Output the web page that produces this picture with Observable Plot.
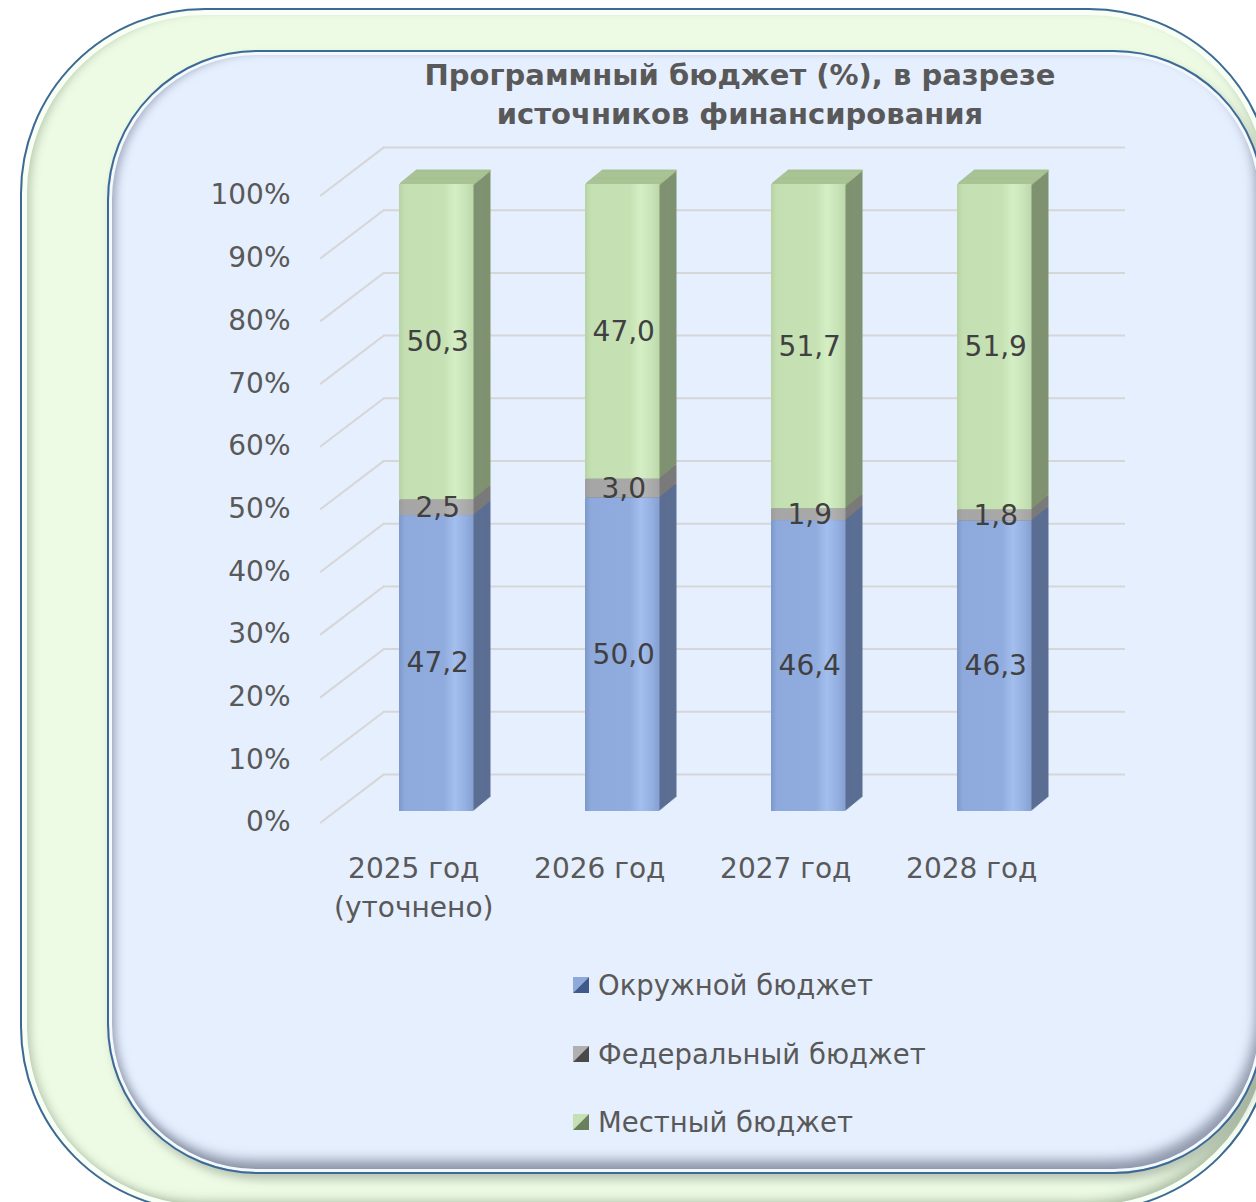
<!DOCTYPE html>
<html>
<head>
<meta charset="utf-8">
<script src="https://cdn.jsdelivr.net/npm/d3@7"></script>
<script src="https://cdn.jsdelivr.net/npm/@observablehq/plot@0.6"></script>
<style>
  html, body { margin: 0; padding: 0; }
  body { width: 1256px; height: 1202px; overflow: hidden; position: relative; background: #ffffff; font-family: "DejaVu Sans", sans-serif; }
  #outer { position: absolute; left: 20px; top: 8px; width: 1250px; height: 1200px; border: 2px solid #3c6a96; border-radius: 185px;
    background: #edfbe5; box-shadow: inset 0 0 0 5px #f8fff4, inset 8px 0 10px rgba(120,140,110,0.45), inset -8px -8px 12px rgba(110,130,100,0.5); }
  #inner { position: absolute; left: 107px; top: 50px; width: 1153px; height: 1120px; border: 2px solid #3c6a96; border-radius: 150px;
    background: #e6effe; box-shadow: inset 0 0 0 3px #f4f8ff, inset 7px 0 8px rgba(110,120,140,0.55), inset -6px -12px 12px rgba(90,100,120,0.6), 4px 6px 8px rgba(90,100,90,0.35); }
  #title { position: absolute; left: 240px; width: 1000px; top: 56px; text-align: center; font-weight: bold; font-size: 29px; line-height: 39px; color: #595959; }
  #chart { position: absolute; left: 0; top: 0; }
  #legend { position: absolute; left: 573px; top: 960px; color: #595959; font-size: 27.5px; }
  .item { position: absolute; left: 0; height: 40px; display: flex; align-items: center; white-space: nowrap; }
  .item svg { margin-right: 9px; }
</style>
</head>
<body>
<svg width="0" height="0" style="position:absolute">
  <defs>
    <linearGradient id="gBlue" x1="0" x2="1" y1="0" y2="0">
      <stop offset="0" stop-color="#7d98cb"/>
      <stop offset="0.08" stop-color="#8ea9db"/>
      <stop offset="0.6" stop-color="#90abdd"/>
      <stop offset="0.75" stop-color="#a3bfee"/>
      <stop offset="0.9" stop-color="#93aee0"/>
      <stop offset="1" stop-color="#859fd0"/>
    </linearGradient>
    <linearGradient id="gGrey" x1="0" x2="1" y1="0" y2="0">
      <stop offset="0" stop-color="#9c9c9c"/>
      <stop offset="0.08" stop-color="#a6a6a6"/>
      <stop offset="0.6" stop-color="#a8a8a8"/>
      <stop offset="0.75" stop-color="#b6b6b6"/>
      <stop offset="1" stop-color="#a2a2a2"/>
    </linearGradient>
    <linearGradient id="gGreen" x1="0" x2="1" y1="0" y2="0">
      <stop offset="0" stop-color="#b7d3a4"/>
      <stop offset="0.08" stop-color="#c4dfb2"/>
      <stop offset="0.6" stop-color="#c6e1b4"/>
      <stop offset="0.75" stop-color="#d4efc4"/>
      <stop offset="0.9" stop-color="#c8e3b7"/>
      <stop offset="1" stop-color="#bcd7aa"/>
    </linearGradient>
  </defs>
</svg>
<div id="outer"></div>
<div id="inner"></div>
<div id="chart"></div>
<div id="title">Программный бюджет (%), в разрезе<br>источников финансирования</div>
<div id="legend"></div>
<script>
// ---- data ----
const years = ["2025 год\n(уточнено)", "2026 год", "2027 год", "2028 год"];
const seriesNames = ["Окружной бюджет", "Федеральный бюджет", "Местный бюджет"];
const okrug = [47.2, 50.0, 46.4, 46.3];
const federal = [2.5, 3.0, 1.9, 1.8];
const local = [50.3, 47.0, 51.7, 51.9];
const yTicks = [0, 10, 20, 30, 40, 50, 60, 70, 80, 90, 100];

// ---- styles ----
const frontFill = {
  "Окружной бюджет": "url(#gBlue)",
  "Федеральный бюджет": "url(#gGrey)",
  "Местный бюджет": "url(#gGreen)"
};
const sideFill = {
  "Окружной бюджет": "#5b6e93",
  "Федеральный бюджет": "#7a7a7a",
  "Местный бюджет": "#7f9271"
};
const legendColors = {
  "Окружной бюджет": ["#8eaadc", "#3f5a8a"],
  "Федеральный бюджет": ["#b0b0b0", "#4a4a4a"],
  "Местный бюджет": ["#c5e0b4", "#6a7f5c"]
};
const topFill = "#a9c395";

const valuesBySeries = [okrug, federal, local];
const rows = years.flatMap((year, i) =>
  seriesNames.map((s, j) => ({year, series: s, value: valuesBySeries[j][i]}))
);
const fmt = v => v.toFixed(1).replace(".", ",");

const W = 1256, H = 1202;
const depthX = 17, depthY = -14, N = 16;

const marks = [];
// grid: back wall lines
marks.push(Plot.ruleY(yTicks, {y: d => d, dy: -37, insetLeft: 95.5, insetRight: 18, stroke: "#d6d6d6", strokeWidth: 2}));
// grid: side wall diagonals
marks.push(Plot.vector(yTicks, {x: () => years[0], y: d => d, length: 79, rotate: 52.7, anchor: "start", r: 0,
  dx: -116, dy: 11, stroke: "#d6d6d6", strokeWidth: 2}));

// 3D extrusion of the bars (side + top faces)
for (let k = N; k >= 1; k--) {
  const dx = k * depthX / N, dy = k * depthY / N;
  marks.push(Plot.barY(rows, Plot.stackY({x: "year", y: "value", z: "series", fill: d => sideFill[d.series], dx, dy})));
  marks.push(Plot.tickY(rows, Plot.groupX({y: "sum"}, {x: "year", y: "value", stroke: topFill, strokeWidth: 2.2, dx, dy})));
}
// front faces
marks.push(Plot.barY(rows, Plot.stackY({x: "year", y: "value", z: "series", fill: d => frontFill[d.series]})));
// value labels
marks.push(Plot.text(rows, Plot.stackY({x: "year", y: "value", z: "series", text: d => fmt(d.value),
  fill: "#404040", fontSize: 28, dx: 1})));
// y axis labels
marks.push(Plot.text(yTicks, {y: d => d, text: d => d + "%", frameAnchor: "left", textAnchor: "end", dx: 2.5, dy: 11,
  fontSize: 28, fill: "#595959"}));
// x axis labels
marks.push(Plot.text(years, {x: d => d, text: d => d, frameAnchor: "bottom", lineAnchor: "top", dx: -23, dy: 39,
  fontSize: 28, lineHeight: 1.39, fill: "#595959"}));

const chart = Plot.plot({
  width: W,
  height: H,
  marginLeft: 287.5,
  marginRight: 113,
  marginTop: 184,
  marginBottom: 391,
  style: {background: "transparent", overflow: "visible", fontFamily: "DejaVu Sans, sans-serif"},
  x: {domain: years, padding: 0.5995, axis: null, round: false},
  y: {domain: [0, 100], axis: null},
  color: {type: "identity"},
  marks
});
document.getElementById("chart").appendChild(chart);

// legend
const legend = document.getElementById("legend");
const legendTops = [5, 74, 142];
seriesNames.forEach((s, i) => {
  const [light, dark] = legendColors[s];
  const div = document.createElement("div");
  div.className = "item";
  div.style.top = legendTops[i] + "px";
  div.innerHTML = `<svg width="16" height="16"><polygon points="0,0 16,0 0,16" fill="${light}"/><polygon points="16,0 16,16 0,16" fill="${dark}"/></svg><span>${s}</span>`;
  legend.appendChild(div);
});
</script>
</body>
</html>
